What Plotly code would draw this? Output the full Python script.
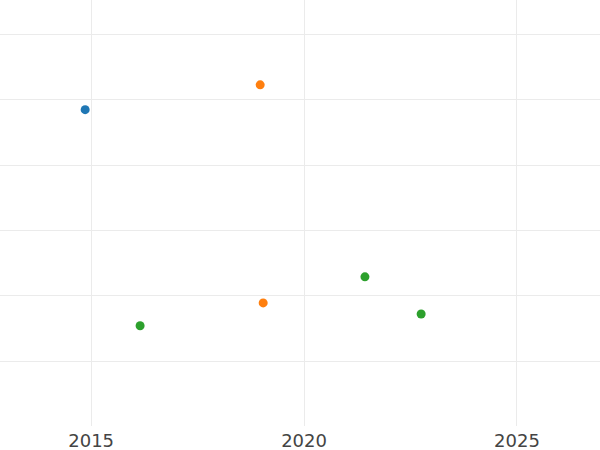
import plotly.graph_objects as go

# Data
series_names = ["A", "B", "C"]
series_colors = ["#1f77b4", "#ff7f0e", "#2ca02c"]
a_x = [2014.86]
a_y = [3.85]
b_x = [2018.97, 2019.04]
b_y = [4.23, 0.89]
c_x = [2016.15, 2021.43, 2022.75]
c_y = [0.54, 1.29, 0.72]
x_tick_vals = [2015, 2020, 2025]
x_tick_text = ["2015", "2020", "2025"]

fig = go.Figure()
for name, color, xs, ys in zip(series_names, series_colors, [a_x, b_x, c_x], [a_y, b_y, c_y]):
    fig.add_trace(go.Scatter(x=xs, y=ys, mode="markers", name=name,
                             marker=dict(color=color, size=9)))

fig.update_layout(
    width=600, height=450,
    margin=dict(l=0, r=0, t=0, b=24),
    paper_bgcolor="white", plot_bgcolor="white",
    showlegend=False,
    font=dict(family="DejaVu Sans, sans-serif", size=18, color="#444"),
    xaxis=dict(range=[2012.86, 2026.95], tickvals=x_tick_vals, ticktext=x_tick_text,
               ticklabelstandoff=2,
               showgrid=True, gridcolor="#ebebeb", gridwidth=1.3, zeroline=False,
               showline=False, automargin=False),
    yaxis=dict(range=[-0.995, 5.53], dtick=1, showticklabels=False,
               showgrid=True, gridcolor="#ebebeb", gridwidth=1.3, zeroline=False,
               showline=False, automargin=False),
)

fig.write_html("out.html", config={"displayModeBar": False},
               post_script="document.body.style.margin='0';")
